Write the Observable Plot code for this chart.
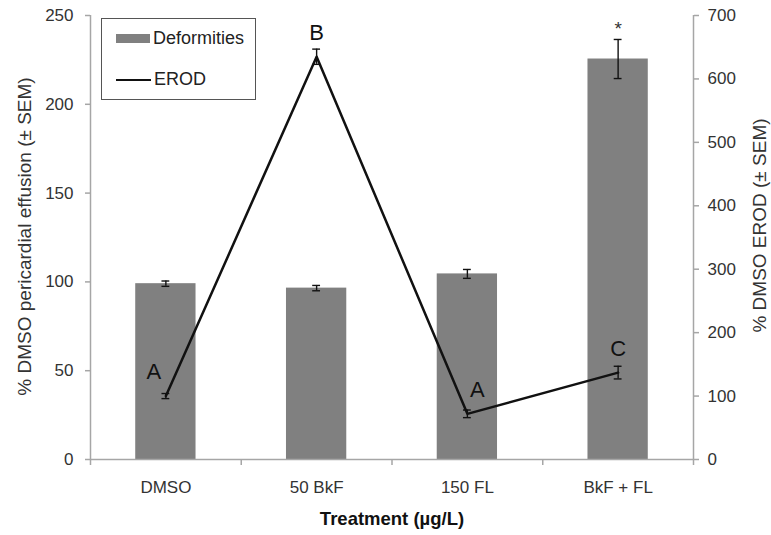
<!DOCTYPE html>
<html>
<head>
<meta charset="utf-8">
<script src="https://cdn.jsdelivr.net/npm/d3@7"></script>
<script src="https://cdn.jsdelivr.net/npm/@observablehq/plot@0.6"></script>
<style>
  body { margin: 0; background: #fff; }
  #wrap { position: relative; width: 771px; height: 535px; font-family: "Liberation Sans", Arial, sans-serif; }
  #legend { position: absolute; left: 101px; top: 18px; width: 155px; height: 82px; border: 1px solid #555; box-sizing: border-box; background: #fff; font-size: 18px; color: #222; }
  .li { position: absolute; left: 14px; display: flex; align-items: center; }
  .sw { width: 34px; height: 9px; background: #808080; margin-right: 3px; }
  .ln { width: 35px; height: 2px; background: #111; margin-right: 3px; }
</style>
</head>
<body>
<div id="wrap">
  <div id="chart"></div>
  <div id="legend">
    <div class="li" style="top:9px"><div class="sw"></div><span>Deformities</span></div>
    <div class="li" style="top:50px"><div class="ln"></div><span>EROD</span></div>
  </div>
</div>
<script>
const categories = ["DMSO", "50 BkF", "150 FL", "BkF + FL"];
const deformities = [99, 96.5, 104.5, 225.5];
const deformitiesErr = [1.5, 1.5, 2.5, 11];
const erod = [100, 635, 72, 137];
const erodErr = [4, 12, 6, 10];
const erodLetters = ["A", "B", "A", "C"];
const letterDx = [-12, 0, 10, 0];
const leftTicks = [0, 50, 100, 150, 200, 250];
const rightTicks = [0, 100, 200, 300, 400, 500, 600, 700];
const leftMax = 250, rightMax = 700;
const toLeft = v => v * leftMax / rightMax;

const rows = categories.map((c, i) => ({
  c, i, xc: i + 0.5,
  def: deformities[i], defErr: deformitiesErr[i],
  erod: toLeft(erod[i]), erodLo: toLeft(erod[i] - erodErr[i]), erodHi: toLeft(erod[i] + erodErr[i]),
  letter: erodLetters[i], ldx: letterDx[i]
}));
const axisColor = "#a6a6a6";
const cap = 0.026;

const chart = Plot.plot({
  width: 771, height: 535,
  marginLeft: 90, marginRight: 78, marginTop: 15, marginBottom: 76,
  style: { fontFamily: "Liberation Sans, Arial, sans-serif", fontSize: "17px", color: "#333", background: "#fff" },
  x: { domain: [0, categories.length], axis: null },
  y: { domain: [0, leftMax], axis: null },
  marks: [
    Plot.rectY(rows, { x1: d => d.i + 0.3, x2: d => d.i + 0.7, y: "def", fill: "#808080" }),
    // bar error bars
    Plot.ruleX(rows, { x: "xc", y1: d => d.def - d.defErr, y2: d => d.def + d.defErr, stroke: "#111", strokeWidth: 1.4 }),
    Plot.ruleY(rows, { x1: d => d.xc - cap, x2: d => d.xc + cap, y: d => d.def - d.defErr, stroke: "#111", strokeWidth: 1.4 }),
    Plot.ruleY(rows, { x1: d => d.xc - cap, x2: d => d.xc + cap, y: d => d.def + d.defErr, stroke: "#111", strokeWidth: 1.4 }),
    // axes lines
    Plot.ruleX([0, categories.length], { stroke: axisColor, strokeWidth: 1.5 }),
    Plot.ruleY([0], { stroke: axisColor, strokeWidth: 1.5 }),
    // x boundary ticks
    Plot.ruleX(d3.range(categories.length + 1), { x: d => d, y1: 0, y2: 0, stroke: axisColor, strokeWidth: 1.5, insetBottom: -6 }),
    Plot.axisX({ ticks: rows.map(d => d.xc), tickFormat: (d) => categories[Math.floor(d)], tickSize: 0, tickPadding: 21, label: null, fill: "#333", fontSize: 17, letterSpacing: "0.5px" }),
    Plot.axisY({ anchor: "left", ticks: leftTicks, tickSize: 5, tickPadding: 12, stroke: axisColor, strokeWidth: 1.5, label: null, fontSize: 17 }),
    Plot.axisY({ anchor: "right", ticks: rightTicks.map(toLeft), tickFormat: d => Math.round(d * rightMax / leftMax), tickSize: 5, tickPadding: 9, stroke: axisColor, strokeWidth: 1.5, label: null, fontSize: 17 }),
    Plot.text(["% DMSO pericardial effusion (± SEM)"], { frameAnchor: "left", textAnchor: "middle", dx: -66, dy: -1, rotate: -90, fontSize: 19, fill: "#333" }),
    Plot.text(["% DMSO EROD (± SEM)"], { frameAnchor: "right", textAnchor: "middle", dx: 66, dy: -12, rotate: -90, fontSize: 19, fill: "#333" }),
    // EROD line
    Plot.line(rows, { x: "xc", y: "erod", stroke: "#111", strokeWidth: 2.5 }),
    Plot.ruleX(rows, { x: "xc", y1: "erodLo", y2: "erodHi", stroke: "#111", strokeWidth: 1.4 }),
    Plot.ruleY(rows, { x1: d => d.xc - cap, x2: d => d.xc + cap, y: "erodLo", stroke: "#111", strokeWidth: 1.4 }),
    Plot.ruleY(rows, { x1: d => d.xc - cap, x2: d => d.xc + cap, y: "erodHi", stroke: "#111", strokeWidth: 1.4 }),
    Plot.text(rows, { x: d => d.xc + d.ldx / 150.75, y: "erod", text: "letter", dy: -24, fontSize: 22, fill: "#111" }),
    Plot.text(rows.filter(d => d.i === 3), { x: "xc", y: d => d.def + d.defErr, text: () => "*", dy: -11, fontSize: 19, fill: "#333" }),
    Plot.text(["Treatment (µg/L)"], { frameAnchor: "bottom", dy: 65, fontWeight: "bold", fontSize: 18.5, fill: "#111" })
  ]
});
document.getElementById("chart").appendChild(chart);
</script>
</body>
</html>
